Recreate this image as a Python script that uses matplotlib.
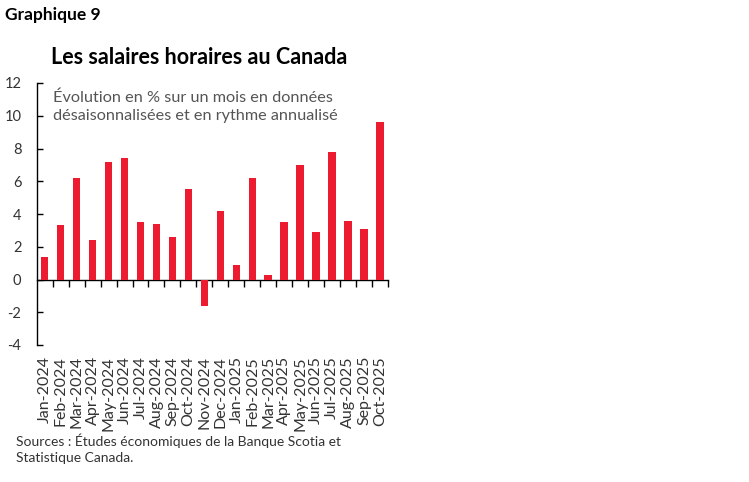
import matplotlib
matplotlib.use("Agg")
import matplotlib.pyplot as plt
from matplotlib.ticker import FixedLocator, NullFormatter

months = ["Jan-2024", "Feb-2024", "Mar-2024", "Apr-2024", "May-2024", "Jun-2024",
          "Jul-2024", "Aug-2024", "Sep-2024", "Oct-2024", "Nov-2024", "Dec-2024",
          "Jan-2025", "Feb-2025", "Mar-2025", "Apr-2025", "May-2025", "Jun-2025",
          "Jul-2025", "Aug-2025", "Sep-2025", "Oct-2025"]
values = [1.4, 3.3, 6.2, 2.4, 7.2, 7.4, 3.5, 3.4, 2.6, 5.5, -1.6, 4.2,
          0.9, 6.2, 0.3, 3.5, 7.0, 2.9, 7.8, 3.6, 3.1, 9.6]
yticks = [-4, -2, 0, 2, 4, 6, 8, 10, 12]

plt.rcParams['font.family'] = ['Lato', 'DejaVu Sans']

W, H = 749, 482
fig = plt.figure(figsize=(W / 100, H / 100), dpi=100)
fig.patch.set_facecolor("white")

ax = fig.add_axes([36.7 / W, 1 - 345 / H, (388 - 36.7) / W, (345 - 83) / H])
x = list(range(len(values)))
ax.bar(x, values, width=0.47, color="#ED1B2F", zorder=3)
ax.set_xlim(-0.5, len(values) - 0.5)
ax.set_ylim(-4, 12)

for s in ["top", "right"]:
    ax.spines[s].set_visible(False)
ax.spines["left"].set_color("black")
ax.spines["left"].set_linewidth(1.0)
ax.spines["bottom"].set_position(("data", 0))
ax.spines["bottom"].set_color("black")
ax.spines["bottom"].set_linewidth(1.0)

ax.set_yticks(yticks)
ax.set_yticklabels([str(v) for v in yticks])
ax.tick_params(axis="y", direction="in", length=4, width=1.0, pad=11,
               labelsize=10.5, labelcolor="#333333")

# ticks on the zero line at bar boundaries, no labels
bounds = [i + 0.5 for i in range(len(values))]
ax.xaxis.set_major_locator(FixedLocator(bounds))
ax.xaxis.set_major_formatter(NullFormatter())
ax.tick_params(axis="x", direction="out", length=5, width=1.0)

# labels at the bottom
sec = ax.secondary_xaxis("bottom")
sec.set_xticks(x)
sec.set_xticklabels(months, rotation=90, fontsize=11.5, color="#333333")
sec.tick_params(axis="x", length=0, pad=8)
sec.spines["bottom"].set_visible(False)

fig.text(5 / W, 1 - 15 / H, "Graphique 9", fontsize=12.5, fontweight="bold",
         ha="left", va="center", color="black")
fig.text(199 / W, 1 - 57 / H, "Les salaires horaires au Canada", fontsize=15.5,
         fontweight="bold", ha="center", va="center", color="black")
fig.text(53 / W, 1 - 107 / H,
         "Évolution en % sur un mois en données\ndésaisonnalisées et en rythme annualisé",
         fontsize=11.7, ha="left", va="center", color="#555555", linespacing=1.35)
fig.text(16 / W, 1 - 449 / H,
         "Sources : Études économiques de la Banque Scotia et\nStatistique Canada.",
         fontsize=10, ha="left", va="center", color="#333333", linespacing=1.45)

fig.savefig("out.png", dpi=100, facecolor="white")
